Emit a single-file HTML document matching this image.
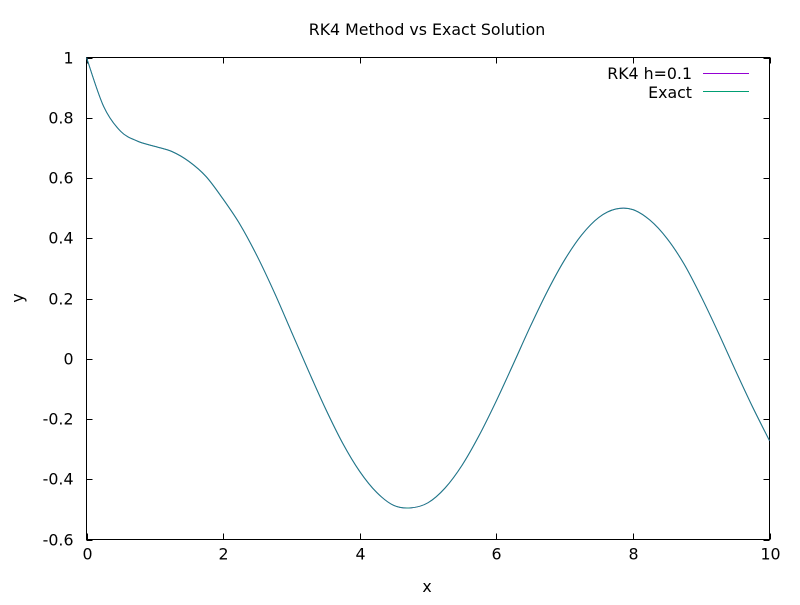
<!DOCTYPE html>
<html><head><meta charset="utf-8"><style>
body{margin:0;background:#fff}
svg{font-family:"DejaVu Sans",sans-serif;font-size:15.8px}
</style></head><body>
<svg id="c" width="800" height="600">
<rect width="800" height="600" fill="#fff"/>
<text x="427" y="35" text-anchor="middle">RK4 Method vs Exact Solution</text>
<text x="427" y="592" text-anchor="middle">x</text>
<text x="23" y="298" text-anchor="middle" transform="rotate(-90 23 298)">y</text>
<g id="axes"></g>
<g id="series"></g>
<g>
<text x="692" y="79" text-anchor="end">RK4 h=0.1</text>
<line x1="703" y1="73.5" x2="749" y2="73.5" stroke="#9400d3"/>
<text x="692" y="98" text-anchor="end">Exact</text>
<line x1="703" y1="91.5" x2="749" y2="91.5" stroke="#009e73"/>
</g>
</svg>
<script>
const xs=[0,0.25,0.5,0.75,1,1.25,1.5,1.75,2,2.25,2.5,2.75,3,3.25,3.5,3.75,4,4.25,4.5,4.75,5,5.25,5.5,5.75,6,6.25,6.5,6.75,7,7.25,7.5,7.75,8,8.25,8.5,8.75,9,9.25,9.5,9.75,10];
const rk4=[1.0,0.838,0.755,0.722,0.705,0.688,0.655,0.605,0.53,0.445,0.34,0.22,0.09,-0.04,-0.166,-0.28,-0.374,-0.444,-0.487,-0.495,-0.478,-0.429,-0.353,-0.254,-0.14,-0.017,0.108,0.225,0.328,0.411,0.469,0.497,0.495,0.46,0.399,0.314,0.206,0.087,-0.038,-0.159,-0.272];
const exact=rk4.slice();
const xTicks=[0,2,4,6,8,10];
const yTicks=[-0.6,-0.4,-0.2,0,0.2,0.4,0.6,0.8,1];
const X0=86.5,X1=769.5,Y0=539.5,Y1=57.5;
const sx=v=>X0+(v-0)/10*(X1-X0);
const sy=v=>Y0-(v+0.6)/1.6*(Y0-Y1);
const NS="http://www.w3.org/2000/svg";
const ax=document.getElementById('axes');
function mk(t,a,p){const e=document.createElementNS(NS,t);for(const k in a)e.setAttribute(k,a[k]);p.appendChild(e);return e;}
const fr=mk('rect',{x:X0,y:Y1,width:X1-X0,height:Y0-Y1,fill:'none',stroke:'#000'},ax);


xTicks.forEach(t=>{const x=Math.round(sx(t))+0.5;
mk('line',{x1:x,y1:Y0,x2:x,y2:Y0-6,stroke:'#000'},ax);
mk('line',{x1:x,y1:Y1,x2:x,y2:Y1+6,stroke:'#000'},ax);
const l=mk('text',{x:x,y:Y0+20,'text-anchor':'middle'},ax);l.textContent=t;

});
yTicks.forEach(t=>{const y=Math.round(sy(t))+0.5;
mk('line',{x1:X0,y1:y,x2:X0+6,y2:y,stroke:'#000'},ax);
mk('line',{x1:X1,y1:y,x2:X1-6,y2:y,stroke:'#000'},ax);
const l=mk('text',{x:X0-13,y:y+5,'text-anchor':'end'},ax);l.textContent=+t.toFixed(1);

});
function path(ys){const p=xs.map((x,i)=>[sx(x),sy(ys[i])]);let d='M'+p[0][0]+','+p[0][1];
for(let i=0;i<p.length-1;i++){const a=p[i-1]||p[i],b=p[i],c=p[i+1],e=p[i+2]||c;
d+=` C${b[0]+(c[0]-a[0])/6},${b[1]+(c[1]-a[1])/6} ${c[0]-(e[0]-b[0])/6},${c[1]-(e[1]-b[1])/6} ${c[0]},${c[1]}`;}return d;}
const sg=document.getElementById('series');
const p1=mk('path',{d:path(rk4),fill:'none',stroke:'#9400d3','stroke-width':1},sg);


const p2=mk('path',{d:path(exact),fill:'none',stroke:'#009e73','stroke-width':1,'stroke-opacity':0.85},sg);


</script>
</body></html>
